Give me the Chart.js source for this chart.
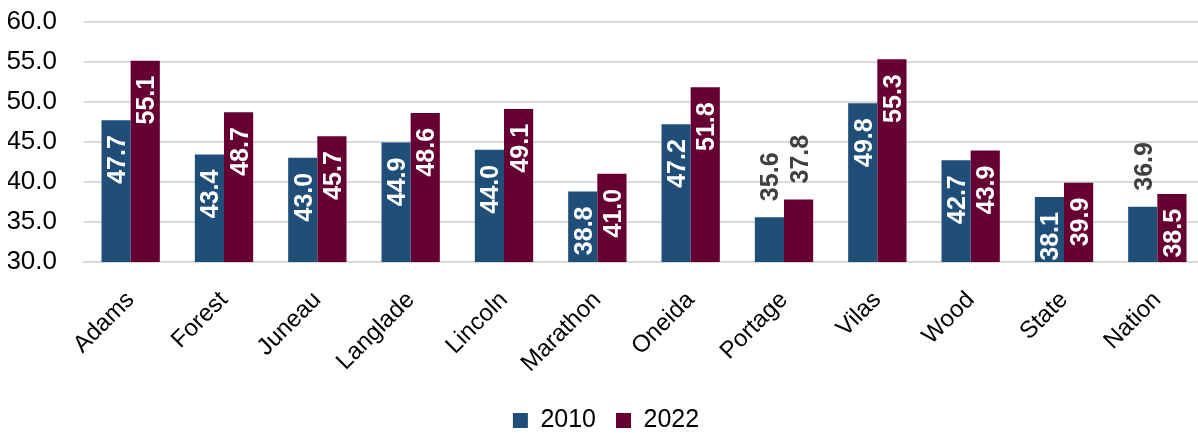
<!DOCTYPE html>
<html>
<head>
<meta charset="utf-8">
<script src="https://cdn.jsdelivr.net/npm/chart.js@4"></script>
<style>
  html, body { margin: 0; padding: 0; background: #fff; overflow: hidden; }
  #wrap { position: absolute; left: 0; top: -21px; width: 1234px; height: 464px; }
</style>
</head>
<body>
<div id="wrap"><canvas id="c" width="1234" height="464"></canvas></div>
<script>
const categories = ["Adams", "Forest", "Juneau", "Langlade", "Lincoln", "Marathon", "Oneida", "Portage", "Vilas", "Wood", "State", "Nation"];
const series2010 = [47.7, 43.4, 43.0, 44.9, 44.0, 38.8, 47.2, 35.6, 49.8, 42.7, 38.1, 36.9];
const series2022 = [55.1, 48.7, 45.7, 48.6, 49.1, 41.0, 51.8, 37.8, 55.3, 43.9, 39.9, 38.5];
const yTicks = [30, 35, 40, 45, 50, 55, 60];

const FONT = "'Liberation Sans', Arial, sans-serif";
const BLUE = "#1F4E79";
const MAROON = "#660033";

const labelPlugin = {
  id: 'barLabels',
  afterDatasetsDraw(chart) {
    const ctx = chart.ctx;
    const size = 25;
    const cap = size * 0.716;
    chart.data.datasets.forEach((ds, di) => {
      const meta = chart.getDatasetMeta(di);
      meta.data.forEach((bar, i) => {
        const v = ds.data[i];
        const txt = v.toFixed(1);
        const inside = v >= 38;
        ctx.save();
        ctx.font = "bold " + size + "px " + FONT;
        ctx.textBaseline = 'alphabetic';
        const w = ctx.measureText(txt).width;
        if (inside) {
          let start = bar.y + 15;
          const maxEnd = bar.base - 17;
          if (start + w > maxEnd) start = maxEnd - w;
          ctx.translate(bar.x, start);
          ctx.rotate(-Math.PI / 2);
          ctx.textAlign = 'right';
          ctx.fillStyle = '#ffffff';
        } else {
          ctx.translate(bar.x, bar.y - 16);
          ctx.rotate(-Math.PI / 2);
          ctx.textAlign = 'left';
          ctx.fillStyle = '#404040';
        }
        ctx.fillText(txt, 0, cap / 2);
        ctx.restore();
      });
    });
  }
};

new Chart(document.getElementById('c'), {
  type: 'bar',
  data: {
    labels: categories,
    datasets: [
      { label: '2010', data: series2010, backgroundColor: BLUE, borderWidth: 0, barPercentage: 1, categoryPercentage: 0.625 },
      { label: '2022', data: series2022, backgroundColor: MAROON, borderWidth: 0, barPercentage: 1, categoryPercentage: 0.625 }
    ]
  },
  options: {
    responsive: false,
    animation: false,
    devicePixelRatio: 1,
    layout: { padding: { left: 8, right: 30, top: -13, bottom: 0 } },
    plugins: {
      tooltip: { enabled: false },
      legend: {
        position: 'bottom',
        labels: {
          font: { family: FONT, size: 25 },
          color: '#000',
          boxWidth: 15,
          boxHeight: 15,
          padding: 20
        }
      }
    },
    scales: {
      y: {
        min: 30, max: 60,
        afterBuildTicks(scale) { scale.ticks = yTicks.map(v => ({ value: v })); },
        afterFit(scale) { scale.width = 76; },
        ticks: {
          font: { family: FONT, size: 26 },
          color: '#000',
          padding: 27,
          callback: v => Number(v).toFixed(1)
        },
        grid: { color: '#d9d9d9', lineWidth: 2, drawTicks: false },
        border: { display: false }
      },
      x: {
        afterFit(scale) { scale.height = 126; scale.paddingLeft = 0; scale.paddingRight = 0; },
        ticks: {
          font: { family: FONT, size: 24 },
          color: '#000',
          minRotation: 45,
          maxRotation: 45,
          padding: 24
        },
        grid: { display: false, drawTicks: false },
        border: { color: '#d9d9d9', width: 2 }
      }
    }
  },
  plugins: [labelPlugin]
});
</script>
</body>
</html>
